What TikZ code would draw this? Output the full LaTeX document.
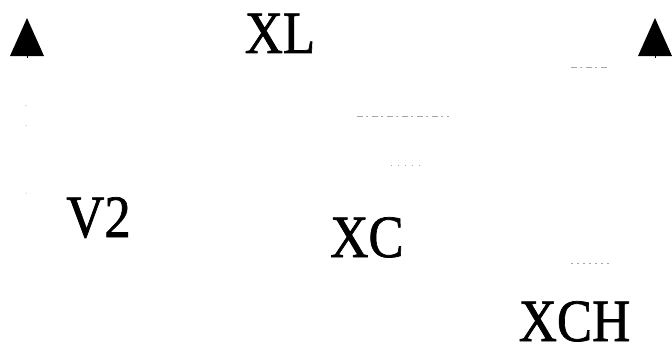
\documentclass[tikz,border=0pt]{standalone}
\usepackage{fontspec}
\newfontfamily\tnr{Liberation Serif}[FakeBold=1.2]
\newcommand{\squeezetext}[1]{\scalebox{0.88}[1]{#1}}
\begin{document}
\begin{tikzpicture}[x=1pt,y=1pt,
  lbl/.style={font=\tnr\fontsize{60}{60}\selectfont, inner sep=0pt, anchor=base, text depth=0pt},
  faint/.style={draw=black!35, line width=0.6pt, dash pattern=on 6pt off 3pt on 2pt off 4pt},
  arrowtri/.style={fill=black}]
\useasboundingbox (0,0) rectangle (672,349);
% arrowheads
\fill[arrowtri] (10,293) -- (27,331) -- (44,293) -- cycle;
\fill[arrowtri] (638,293) -- (655,331) -- (672,293) -- cycle;
\draw[black, line width=0.6pt] (27,293) -- (27,291);
\draw[black, line width=0.6pt] (655,293) -- (655,291);
% faint remnants
\draw[faint] (571,282) -- (610,282);
\draw[faint] (357,233) -- (449,233);
\draw[faint, dash pattern=on 1pt off 6pt] (391,184) -- (421,184);
\draw[faint, dash pattern=on 2pt off 4pt] (571,86) -- (610,86);
\fill[black!40] (26,243.5) circle (0.5);
\fill[black!40] (26,223.5) circle (0.5);
\fill[black!40] (26,156) circle (0.5);
% labels
\node[lbl] (xl) at (280,296) {\squeezetext{XL}};
\node[lbl] (v2) at (98.5,112) {\squeezetext{V2}};
\node[lbl] (xc) at (367,92) {\squeezetext{XC}};
\node[lbl] (xch) at (574.5,8) {\squeezetext{XCH}};
\end{tikzpicture}
\end{document}
